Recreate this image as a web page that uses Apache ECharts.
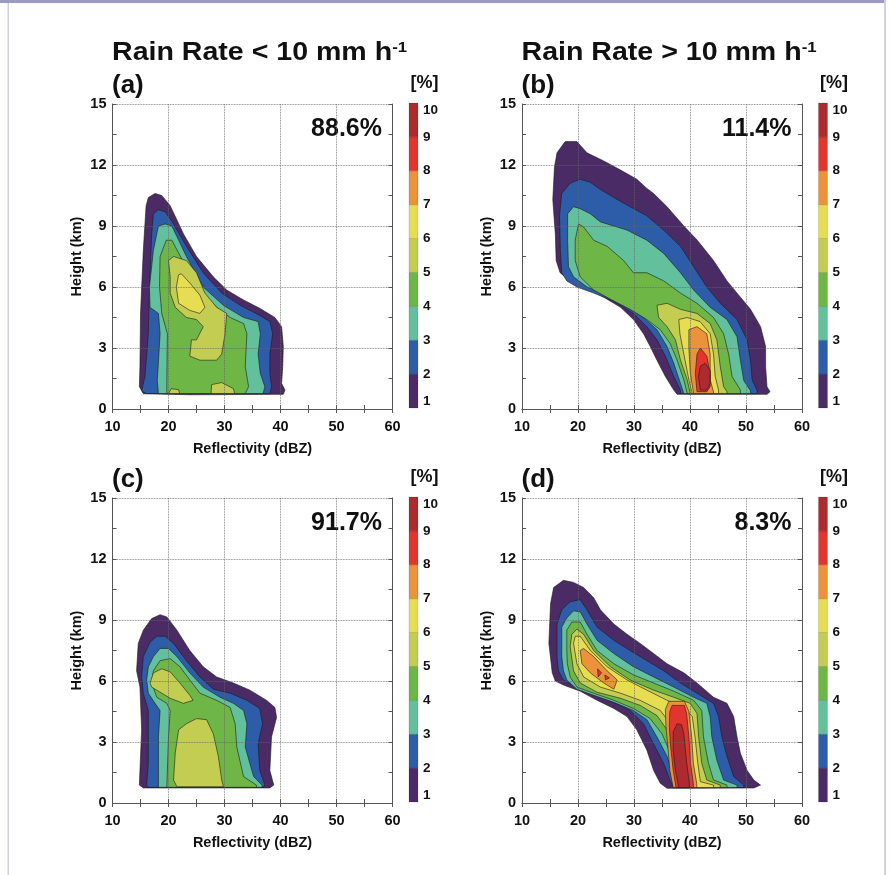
<!DOCTYPE html>
<html>
<head>
<meta charset="utf-8">
<script src="https://cdn.jsdelivr.net/npm/echarts@6/dist/echarts.min.js"></script>
<style>
  html, body { margin: 0; background: #fff; }
  #chart { width: 894px; height: 875px; }
</style>
</head>
<body>
<div id="chart"></div>
<script>
// contour levels [%] and their fill colours
const levelTicks = [1, 2, 3, 4, 5, 6, 7, 8, 9, 10]
const levelColors = ['#4a2b66', '#2d5ca8', '#62c09c', '#6eb746', '#c3cd51', '#e6dd51', '#ec923a', '#e3352e', '#ad2a2e']

const panelNames = ['(a)', '(b)', '(c)', '(d)']
const panelShares = ['88.6%', '11.4%', '91.7%', '8.3%']
const rainTitles = ['Rain Rate < 10 mm h', 'Rain Rate > 10 mm h']

// each entry: [level, outline as [dBZ, km] points]
const panelA = [
  [1, [[14.8,1.1],[14.9,2.1],[15.0,4.7],[15.5,7.8],[16.0,10.0],[16.4,10.4],[17.6,10.6],[18.8,10.5],[20.3,10.0],[22.7,8.6],[25.0,7.5],[28.0,6.5],[30.4,5.85],[33.4,5.36],[36.3,4.95],[39.0,4.5],[40.2,4.05],[40.5,3.07],[40.4,2.1],[40.2,1.26],[40.8,0.93],[40.5,0.72],[23.8,0.7],[15.5,0.75]]],
  [2, [[15.2,0.9],[15.8,1.6],[16.4,3.7],[16.6,6.0],[17.0,8.6],[17.3,9.6],[18.2,9.8],[19.4,9.7],[20.9,9.1],[23.2,8.0],[26.2,6.7],[29.5,5.7],[32.8,5.1],[36.3,4.6],[38.1,4.3],[38.6,3.7],[38.1,2.7],[38.1,1.75],[38.4,1.1],[38.1,0.76],[16.0,0.76]]],
  [3, [[18.2,0.76],[18.0,1.4],[18.5,3.7],[18.2,4.7],[16.7,5.0],[16.6,6.0],[17.3,7.8],[18.2,9.0],[19.4,9.1],[20.6,9.0],[23.2,7.5],[26.2,6.0],[29.8,5.1],[33.4,4.5],[36.0,4.3],[36.4,3.7],[36.0,2.7],[36.4,1.75],[37.2,1.1],[36.9,0.76]]],
  [4, [[19.7,0.76],[19.7,1.26],[19.8,3.7],[18.8,4.7],[18.4,6.0],[18.5,7.5],[19.6,8.3],[20.6,8.3],[22.7,7.2],[25.6,5.85],[28.6,5.0],[31.0,4.5],[33.4,4.2],[34.0,3.7],[33.7,2.1],[34.3,1.1],[33.7,0.76]]],
  [5, [[20.3,6.5],[20.0,7.3],[20.9,7.5],[23.2,7.3],[25.0,6.7],[26.5,5.7],[28.6,5.0],[30.4,4.7],[30.1,3.7],[29.5,2.7],[28.6,2.4],[25.6,2.4],[23.8,2.6],[24.1,3.4],[25.0,3.4],[26.2,4.05],[25.0,4.4],[23.2,4.5],[21.2,5.0],[20.3,5.7]]],
  [5, [[27.6,0.76],[27.7,1.2],[29.5,1.3],[31.6,1.0],[31.8,0.76]]],
  [5, [[20.0,0.76],[20.5,1.0],[21.8,0.95],[22.0,0.76]]],
  [6, [[21.8,6.6],[22.3,6.65],[23.8,6.2],[25.6,5.6],[26.5,5.0],[25.6,4.7],[23.8,4.85],[21.8,5.2],[21.4,6.0]]]
]
const panelB = [
  [1, [[16.25,12.6],[17.7,13.15],[19.8,13.15],[21.6,12.6],[24.6,12.2],[27.6,11.75],[30.5,11.3],[32.3,10.85],[33.5,10.6],[35.9,9.95],[38.9,9.0],[41.3,8.3],[44.2,7.3],[46.6,6.3],[49.0,5.5],[50.8,4.9],[52.6,4.05],[53.5,3.07],[53.5,2.1],[53.75,1.1],[54.3,0.85],[53.75,0.72],[37.7,0.72],[37.1,0.93],[35.6,1.6],[34.1,2.4],[32.9,3.07],[31.7,3.7],[29.9,4.4],[27.6,5.0],[25.2,5.4],[21.6,6.0],[18.6,6.3],[16.8,6.7],[16.1,7.3],[15.95,8.6],[15.5,10.3],[15.8,11.9]]],
  [2, [[17.1,10.6],[18.6,11.1],[20.4,11.3],[22.2,11.15],[24.0,10.8],[26.4,10.4],[29.3,9.95],[32.3,9.5],[35.3,8.8],[38.3,8.0],[40.65,7.0],[43.0,6.0],[45.4,5.2],[48.4,4.4],[50.2,3.4],[50.8,2.4],[51.1,1.43],[52.0,0.9],[52.0,0.76],[38.3,0.76],[38.3,0.93],[37.1,1.6],[35.6,2.6],[34.1,3.4],[32.3,4.05],[29.9,4.7],[26.4,5.3],[22.8,5.7],[19.8,6.0],[18.0,6.3],[17.1,6.7],[16.85,7.8],[16.7,9.5]]],
  [3, [[18.15,9.6],[19.2,9.95],[20.4,9.85],[22.2,9.6],[24.0,9.2],[26.4,9.0],[28.75,8.8],[32.3,8.3],[35.3,7.65],[38.3,6.7],[40.65,5.85],[43.6,5.0],[46.6,4.4],[48.4,3.55],[49.0,2.4],[49.6,1.4],[50.8,0.9],[50.8,0.76],[38.9,0.76],[38.3,1.26],[37.1,2.25],[35.9,3.07],[34.1,3.9],[31.7,4.5],[28.75,5.1],[25.2,5.6],[21.6,6.0],[19.2,6.5],[18.3,7.0],[18.15,8.3]]],
  [4, [[20.1,9.1],[21.0,8.95],[22.8,8.3],[25.2,8.0],[28.15,7.3],[29.9,6.7],[32.3,6.7],[35.3,6.3],[38.3,5.7],[41.25,5.2],[44.2,4.5],[46.0,3.7],[46.9,2.7],[47.5,1.6],[49.0,0.93],[49.0,0.76],[39.5,0.76],[38.9,1.43],[37.7,2.4],[36.5,3.2],[34.7,3.9],[32.3,4.4],[29.3,4.9],[25.8,5.4],[22.8,5.85],[20.4,6.5],[19.5,7.3],[19.5,8.3]]],
  [5, [[34.1,5.1],[35.9,5.2],[38.3,4.9],[41.25,4.7],[43.6,4.2],[44.8,3.4],[45.4,2.1],[46.0,1.1],[46.6,0.85],[46.6,0.76],[40.06,0.76],[39.5,1.43],[38.3,2.4],[37.4,3.4],[35.9,4.05],[34.4,4.5]]],
  [6, [[38.0,4.4],[39.5,4.5],[41.8,4.3],[43.6,3.7],[44.2,2.7],[44.5,1.6],[45.1,0.93],[45.1,0.76],[40.4,0.76],[39.8,1.43],[38.9,2.7],[38.2,3.7]]],
  [7, [[39.8,3.9],[41.25,4.05],[43.0,3.7],[43.6,2.7],[43.6,1.43],[44.2,0.85],[44.2,0.76],[40.65,0.76],[40.06,1.75],[39.8,3.0]]],
  [8, [[41.25,2.7],[41.85,3.0],[43.0,2.6],[43.6,1.75],[43.6,1.1],[43.0,0.85],[41.25,0.85],[40.95,1.75]]],
  [9, [[41.85,2.1],[42.7,2.25],[43.6,1.9],[43.6,1.26],[43.0,0.93],[41.85,0.93],[41.5,1.6]]]
]
const panelC = [
  [1, [[14.8,0.88],[14.9,1.6],[15.2,3.6],[14.9,5.7],[14.3,6.5],[14.6,7.85],[15.5,8.5],[17.0,9.07],[18.5,9.26],[19.7,9.15],[21.5,8.5],[23.8,7.5],[26.2,6.7],[28.6,6.2],[31.6,5.9],[34.55,5.55],[37.5,5.05],[39.0,4.7],[39.3,4.2],[38.4,3.25],[38.1,1.6],[38.8,0.88],[38.1,0.74],[15.5,0.74]]],
  [2, [[16.1,0.88],[16.4,1.95],[16.4,4.55],[15.5,5.4],[15.2,6.2],[15.5,7.2],[16.7,7.9],[17.9,8.2],[19.4,8.2],[20.9,7.85],[23.2,7.0],[25.6,6.2],[28.0,5.6],[31.0,5.4],[34.0,5.05],[36.3,4.65],[36.8,3.9],[36.0,2.9],[36.3,1.6],[37.2,0.88],[36.9,0.77],[16.4,0.77]]],
  [3, [[18.2,0.77],[18.2,3.25],[18.5,4.55],[17.6,4.9],[16.4,5.4],[16.1,6.05],[16.4,6.7],[17.3,7.2],[18.5,7.6],[20.0,7.6],[21.5,7.2],[23.8,6.4],[26.2,5.7],[29.2,5.2],[31.6,4.9],[33.4,4.55],[34.0,3.9],[33.7,2.75],[35.2,1.3],[36.7,0.88],[36.7,0.77]]],
  [4, [[19.7,0.77],[20.0,3.25],[20.3,4.55],[19.7,4.9],[17.9,5.2],[17.0,5.9],[17.3,6.5],[18.5,7.0],[20.3,7.1],[22.05,6.7],[23.8,6.05],[25.6,5.4],[28.6,5.05],[31.0,4.7],[31.9,3.9],[32.2,2.75],[33.4,1.3],[35.7,0.88],[35.7,0.77]]],
  [5, [[16.7,5.9],[17.3,6.4],[18.8,6.6],[20.3,6.45],[22.05,5.9],[23.8,5.3],[24.4,5.05],[22.65,4.9],[20.3,5.15],[18.2,5.5],[17.0,5.7]]],
  [5, [[20.9,1.13],[21.2,2.45],[21.8,3.6],[23.2,3.9],[25.0,4.15],[26.8,4.1],[28.0,3.4],[28.9,2.3],[29.5,1.13],[29.8,0.8],[21.5,0.8]]]
]
const panelD = [
  [1, [[15.4,6.4],[14.8,7.85],[15.1,9.8],[15.65,10.6],[17.4,10.95],[19.2,10.85],[21.0,10.6],[22.8,10.1],[24.0,9.5],[26.4,8.8],[28.75,8.3],[31.1,7.85],[33.5,7.35],[35.9,6.85],[38.9,6.4],[41.25,5.9],[44.2,5.2],[46.6,4.9],[47.8,4.25],[48.4,3.25],[49.0,2.45],[50.2,1.6],[51.4,1.13],[52.6,0.88],[51.4,0.74],[35.9,0.72],[34.7,0.97],[33.5,1.6],[32.3,2.6],[30.5,3.6],[28.75,4.25],[26.4,4.65],[23.4,5.05],[20.4,5.5],[17.4,5.8],[15.95,6.0]]],
  [2, [[16.25,7.2],[16.25,8.8],[17.1,9.5],[18.6,9.9],[20.4,10.0],[21.6,9.5],[23.4,8.65],[26.4,8.0],[29.3,7.5],[32.3,7.0],[35.3,6.5],[38.3,5.9],[41.25,5.4],[44.2,4.9],[45.1,4.25],[45.7,3.25],[46.6,2.3],[47.8,1.3],[49.6,0.88],[49.6,0.76],[37.1,0.76],[36.5,1.05],[35.3,1.95],[33.5,2.9],[31.7,3.9],[29.3,4.55],[26.4,4.95],[22.8,5.4],[19.8,5.7],[17.4,6.05],[16.5,6.5]]],
  [3, [[17.1,7.2],[17.1,8.65],[18.0,9.1],[19.2,9.45],[20.4,9.4],[21.6,8.8],[23.4,8.0],[26.4,7.35],[29.9,6.7],[33.5,6.2],[37.1,5.7],[40.65,5.2],[43.0,4.9],[43.6,4.25],[43.9,3.25],[44.8,2.1],[46.0,1.13],[48.4,0.88],[48.4,0.76],[37.7,0.76],[37.1,1.3],[35.9,2.3],[34.1,3.25],[32.3,4.1],[29.9,4.55],[26.4,4.95],[22.8,5.3],[19.8,5.6],[18.0,6.05],[17.4,6.5]]],
  [4, [[18.0,7.5],[18.0,8.5],[18.9,8.9],[20.4,8.9],[21.6,8.3],[23.4,7.5],[26.4,6.85],[29.9,6.3],[33.5,5.9],[37.1,5.5],[40.65,5.05],[42.1,4.55],[42.4,3.25],[43.3,1.95],[44.2,1.13],[46.6,0.88],[46.6,0.76],[38.3,0.76],[37.7,1.45],[36.5,2.45],[35.0,3.4],[32.9,4.15],[29.9,4.65],[26.4,5.05],[22.8,5.4],[19.8,5.7],[18.6,6.2],[18.1,6.85]]],
  [5, [[18.6,7.7],[18.9,8.3],[19.8,8.55],[21.0,8.3],[22.8,7.5],[25.8,6.7],[29.3,6.05],[33.5,5.55],[37.1,5.2],[40.06,4.9],[41.25,4.4],[41.55,3.25],[42.1,1.95],[43.0,1.13],[45.4,0.88],[45.4,0.76],[38.6,0.76],[38.0,1.6],[37.1,2.6],[35.9,3.6],[34.1,4.3],[31.1,4.8],[27.6,5.15],[23.4,5.45],[20.4,5.9],[19.2,6.5]]],
  [6, [[19.2,7.85],[19.5,8.2],[20.4,8.2],[22.2,7.5],[25.2,6.7],[28.75,6.05],[32.3,5.55],[35.9,5.05],[38.9,4.7],[40.4,4.25],[40.9,3.25],[41.4,1.95],[41.85,1.05],[44.2,0.88],[44.2,0.76],[38.9,0.76],[38.3,1.6],[37.4,2.9],[36.5,3.9],[34.7,4.55],[31.1,5.05],[27.6,5.4],[24.0,5.7],[21.0,6.2],[19.8,6.85]]],
  [7, [[20.4,7.5],[21.0,7.6],[22.8,7.2],[25.2,6.5],[27.0,6.05],[26.4,5.6],[24.6,5.9],[22.2,6.4],[20.7,6.85]]],
  [7, [[35.6,4.6],[36.2,5.0],[39.0,5.0],[39.8,4.5],[40.3,3.25],[40.6,1.95],[41.2,0.95],[41.2,0.76],[37.0,0.76],[36.4,1.6],[36.0,2.9],[35.7,3.8]]],
  [8, [[36.4,4.5],[36.8,4.8],[39.0,4.8],[39.4,4.4],[39.8,3.25],[40.1,1.95],[40.6,0.95],[40.6,0.76],[37.5,0.76],[37.0,1.6],[36.5,2.9],[36.3,3.8]]],
  [8, [[23.5,6.6],[24.2,6.4],[23.6,6.2]]],
  [8, [[24.8,6.3],[25.6,6.15],[24.9,6.05]]],
  [9, [[37.0,3.5],[37.7,3.9],[38.5,3.85],[38.9,3.4],[39.4,2.0],[39.9,0.95],[39.9,0.76],[38.0,0.76],[37.4,1.6],[37.0,2.6]]]
]
const panels = [panelA, panelB, panelC, panelD]

const FONT = 'Liberation Sans'
const INK = '#111'
const plotBoxes = [
  { left: 112.5, top: 104 }, { left: 522, top: 104 },
  { left: 112.5, top: 498 }, { left: 522, top: 498 }
]
const PW = 280, PH = 305

const chart = echarts.init(document.getElementById('chart'))

const grid = [], xAxis = [], yAxis = [], series = [], graphic = []
const frameLine = { show: true, lineStyle: { color: '#555', width: 1 } }
const inTick = { show: true, inside: true, length: 4, lineStyle: { color: '#555' } }
const minor = { show: true, splitNumber: 2, length: 4, lineStyle: { color: '#555' } }
const gridLine = { show: true, lineStyle: { color: '#666', type: 'dotted', width: 0.8 } }
const lbl = { color: INK, fontFamily: FONT, fontWeight: 'bold', fontSize: 14.5 }

plotBoxes.forEach((b, i) => {
  const gi = grid.length
  grid.push({ left: b.left, top: b.top, width: PW, height: PH })
  const xa = { gridIndex: gi, type: 'value', min: 10, max: 60, interval: 10, z: 5,
    axisLine: frameLine, axisTick: inTick, minorTick: minor }
  const ya = { gridIndex: gi, type: 'value', min: 0, max: 15, interval: 3, z: 5,
    axisLine: frameLine, axisTick: inTick, minorTick: minor }
  const xi = xAxis.length, yi = yAxis.length
  xAxis.push(Object.assign({}, xa, { position: 'bottom', splitLine: gridLine,
    name: 'Reflectivity (dBZ)', nameLocation: 'middle', nameGap: 32,
    nameTextStyle: Object.assign({}, lbl),
    axisLabel: Object.assign({ margin: 10 }, lbl) }))
  xAxis.push(Object.assign({}, xa, { position: 'top', splitLine: { show: false }, axisLabel: { show: false } }))
  yAxis.push(Object.assign({}, ya, { position: 'left', splitLine: gridLine,
    name: 'Height (km)', nameLocation: 'middle', nameGap: 28,
    nameTextStyle: Object.assign({}, lbl),
    axisLabel: Object.assign({ margin: 6 }, lbl) }))
  yAxis.push(Object.assign({}, ya, { position: 'right', splitLine: { show: false }, axisLabel: { show: false } }))

  const panel = panels[i]
  series.push({
    type: 'custom', xAxisIndex: xi, yAxisIndex: yi, z: 2, silent: true, clip: true,
    data: panel.map(p => p[1][0]),
    renderItem: (params, api) => {
      const item = panel[params.dataIndex]
      return {
        type: 'polygon',
        shape: { points: item[1].map(pt => api.coord(pt)) },
        style: { fill: levelColors[item[0] - 1], stroke: '#1b1b1b', lineWidth: 0.6 }
      }
    }
  })

  // colour bar
  const cb = { left: b.left + PW + 16.5, top: b.top - 1, width: 9, height: PH }
  const ci = grid.length
  grid.push(cb)
  const cxi = xAxis.length, cyi = yAxis.length
  xAxis.push({ gridIndex: ci, type: 'value', min: 0, max: 1, show: false })
  yAxis.push({ gridIndex: ci, type: 'value', min: 1, max: 10, interval: 1, position: 'right',
    axisLine: { show: false }, axisTick: { show: false }, splitLine: { show: false },
    axisLabel: Object.assign({ margin: 5, verticalAlignMinLabel: 'bottom', verticalAlignMaxLabel: 'top' }, lbl, { fontSize: 13.5 }) })
  series.push({
    type: 'custom', xAxisIndex: cxi, yAxisIndex: cyi, silent: true,
    data: levelTicks.slice(0, levelColors.length).map(v => [0, v]),
    renderItem: (params, api) => {
      const v = levelTicks[params.dataIndex]
      const p0 = api.coord([0, v + 1]), p1 = api.coord([1, v])
      return { type: 'rect', shape: { x: p0[0], y: p0[1], width: p1[0] - p0[0], height: p1[1] - p0[1] },
        style: { fill: levelColors[params.dataIndex], stroke: 'rgba(0,0,0,0.25)', lineWidth: 0.5 } }
    }
  })

  graphic.push({ type: 'text', x: b.left - 0.5, y: b.top - 18.5,
    style: { text: panelNames[i], fill: INK, font: 'bold 26px "Liberation Sans"', verticalAlign: 'middle' } })
  graphic.push({ type: 'text', x: cb.left + 15.5, y: b.top - 20.5,
    style: { text: '[%]', fill: INK, font: 'bold 18px "Liberation Sans"', align: 'center', verticalAlign: 'middle' } })
  graphic.push({ type: 'text', x: b.left + PW - 10.5, y: b.top + 25,
    style: { text: panelShares[i], fill: INK, font: 'bold 25px "Liberation Sans"', align: 'right', verticalAlign: 'middle' } })
})

rainTitles.forEach((t, i) => {
  graphic.push({ type: 'text', x: plotBoxes[i].left - 0.5, y: 53, scaleX: 1.12,
    style: { text: '{m|' + t + '}{s|-1}', fill: INK, verticalAlign: 'middle',
      rich: {
        m: { fontSize: 25.5, fontWeight: 'bold', fontFamily: FONT, fill: INK },
        s: { fontSize: 15, fontWeight: 'bold', fontFamily: FONT, fill: INK, verticalAlign: 'top' }
      } } })
})

// page frame
graphic.push({ type: 'rect', shape: { x: 0, y: 0, width: 886, height: 3 }, style: { fill: '#9b99c9' } })
graphic.push({ type: 'rect', shape: { x: 7.5, y: 3, width: 1.5, height: 872 }, style: { fill: '#cfcfea' } })
graphic.push({ type: 'rect', shape: { x: 884, y: 0, width: 2, height: 875 }, style: { fill: '#cfcfea' } })

chart.setOption({
  backgroundColor: '#fff',
  animation: false,
  grid, xAxis, yAxis, series, graphic
})
</script>
</body>
</html>
